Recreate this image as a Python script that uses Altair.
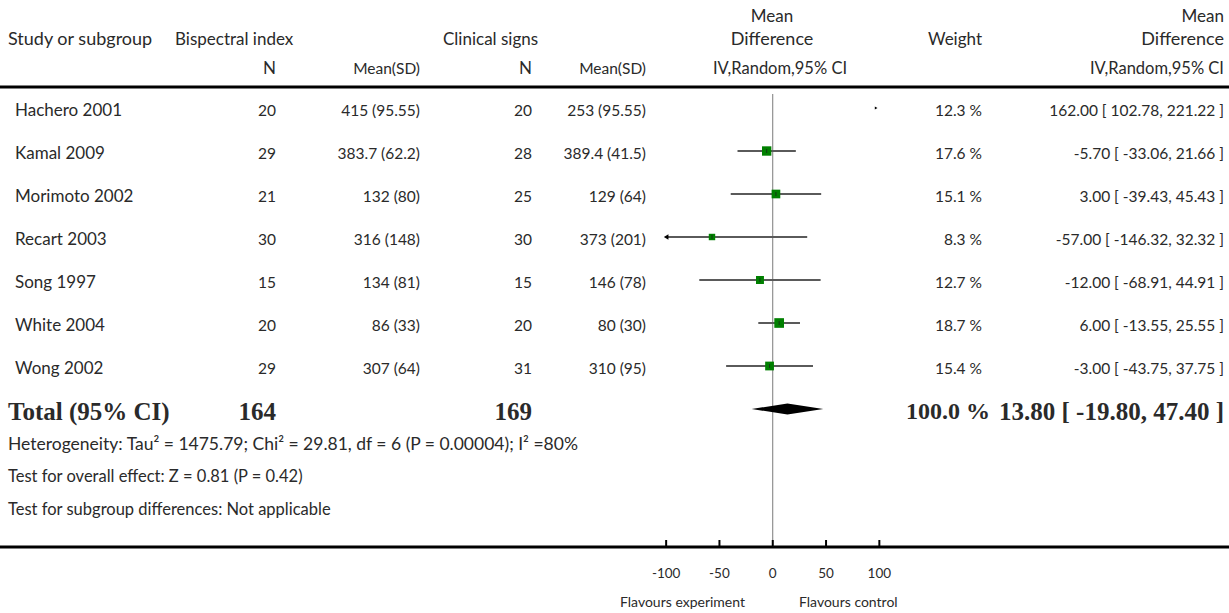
import altair as alt
import pandas as pd

# Study-level data
studies = ["Hachero 2001", "Kamal 2009", "Morimoto 2002", "Recart 2003",
           "Song 1997", "White 2004", "Wong 2002"]
n_bis = [20, 29, 21, 30, 15, 20, 29]
msd_bis = ["415 (95.55)", "383.7 (62.2)", "132 (80)", "316 (148)",
           "134 (81)", "86 (33)", "307 (64)"]
n_cli = [20, 28, 25, 30, 15, 20, 31]
msd_cli = ["253 (95.55)", "389.4 (41.5)", "129 (64)", "373 (201)",
           "146 (78)", "80 (30)", "310 (95)"]
weights = [12.3, 17.6, 15.1, 8.3, 12.7, 18.7, 15.4]
md = [162.00, -5.70, 3.00, -57.00, -12.00, 6.00, -3.00]
ci_lo = [102.78, -33.06, -39.43, -146.32, -68.91, -13.55, -43.75]
ci_hi = [221.22, 21.66, 45.43, 32.32, 44.91, 25.55, 37.75]

# Pooled estimate
total_n_bis = 164
total_n_cli = 169
total_weight = 100.0
total_md = 13.80
total_lo = -19.80
total_hi = 47.40

axis_ticks = [-100, -50, 0, 50, 100]
axis_lim = 100

W, H = 1229, 613
SANS = "Lato"
SERIF = "Liberation Serif"
INK = "#2a2a2a"
TXT = 17      # labels and headers
NUM = 15.5    # numeric cells
BOLD = 25     # pooled row

# x: mean difference scale (0 sits under the forest column)
x_scale = alt.Scale(domain=[-724.9, 428.0], range=[0, W], nice=False, zero=False)
# y: row index scale, one row = 43 px, first row at 108 px
y_scale = alt.Scale(domain=[-108 / 43, (H - 108) / 43], range=[0, H], nice=False, zero=False)

rows = pd.DataFrame({
    "row": list(range(len(studies))),
    "study": studies,
    "n_bis": [str(v) for v in n_bis],
    "msd_bis": msd_bis,
    "n_cli": [str(v) for v in n_cli],
    "msd_cli": msd_cli,
    "weight": weights,
    "wlab": [f"{w:.1f} %" for w in weights],
    "md": md,
    "lo": ci_lo,
    "hi": ci_hi,
    "cilab": [f"{m:.2f} [ {l:.2f}, {h:.2f} ]" for m, l, h in zip(md, ci_lo, ci_hi)],
})
rows["lo_c"] = rows["lo"].clip(-axis_lim, axis_lim)
rows["hi_c"] = rows["hi"].clip(-axis_lim, axis_lim)
rows["inside"] = (rows["md"] >= -axis_lim) & (rows["md"] <= axis_lim)

base = alt.Chart(rows)
X = lambda f: alt.X(f, type="quantitative", scale=x_scale, axis=None)
Y = lambda f: alt.Y(f, type="quantitative", scale=y_scale, axis=None)


def col_text(field, xpx, align, size=NUM, dy=3):
    return base.mark_text(align=align, baseline="middle", font=SANS, fontSize=size,
                          color=INK, dy=dy).encode(
        x=alt.value(xpx), y=Y("row"), text=alt.Text(field, type="nominal"))


def label(text, xpx, ypx, align="left", size=TXT, font=SANS, weight="normal"):
    return alt.Chart(alt.Data(values=[{}])).mark_text(
        align=align, baseline="middle", font=font, fontSize=size,
        fontWeight=weight, color=INK).encode(
        x=alt.value(xpx), y=alt.value(ypx), text=alt.value(text))


layers = []

# Header
layers += [
    label("Study or subgroup", 8, 40, size=18),
    label("Bispectral index", 175, 40),
    label("Clinical signs", 443, 40),
    label("Mean", 772, 17, "center"),
    label("Difference", 772, 40, "center", 18),
    label("Weight", 955, 40, "center"),
    label("Mean", 1224, 17, "right"),
    label("Difference", 1224, 40, "right", 18),
    label("N", 276, 69, "right"),
    label("Mean(SD)", 420, 69, "right", NUM),
    label("N", 532, 69, "right"),
    label("Mean(SD)", 646, 69, "right", NUM),
    label("IV,Random,95% CI", 780, 69, "center", 16.5),
    label("IV,Random,95% CI", 1224, 69, "right", 16.5),
]

# Horizontal rules framing the table
rule_src = alt.Chart(alt.Data(values=[{}]))
layers.append(rule_src.mark_rule(color="black", strokeWidth=3).encode(
    x=alt.value(0), x2=alt.value(W), y=alt.value(87)))
layers.append(rule_src.mark_rule(color="black", strokeWidth=3).encode(
    x=alt.value(0), x2=alt.value(W), y=alt.value(547)))

# Line of no effect
zero_df = pd.DataFrame({"v": [0]})
layers.append(alt.Chart(zero_df).mark_rule(color="#7a7a7a", strokeWidth=1).encode(
    x=X("v"), y=alt.value(94), y2=alt.value(547)))

# Study columns
layers += [
    col_text("study", 15, "left", TXT),
    col_text("n_bis", 276, "right"),
    col_text("msd_bis", 420, "right"),
    col_text("n_cli", 532, "right"),
    col_text("msd_cli", 646, "right"),
    col_text("wlab", 982, "right"),
    col_text("cilab", 1224, "right"),
]

# Confidence intervals (clipped at the plotted range)
ci_rows = rows[rows["lo_c"] < rows["hi_c"]]
layers.append(alt.Chart(ci_rows).mark_rule(color="#5a5a5a", strokeWidth=2).encode(
    x=X("lo_c"), x2=alt.X2("hi_c"), y=Y("row")))

# Arrows where the interval runs past the plotted range
left_arrows = rows[rows["lo"] < -axis_lim]
right_arrows = rows[rows["hi"] > axis_lim].copy()
right_arrows["tip"] = axis_lim - 3
layers.append(alt.Chart(left_arrows).mark_point(
    shape="triangle-left", filled=True, color="black", size=28, opacity=1).encode(
    x=X("lo_c"), y=Y("row")))
layers.append(alt.Chart(right_arrows).mark_point(
    shape="triangle-right", filled=True, color="black", size=10, opacity=1).encode(
    x=X("tip"), y=Y("row")))

# Weighted point estimates
inside = rows[rows["inside"]]
layers.append(alt.Chart(inside).mark_square(color="#008000", opacity=1).encode(
    x=X("md"), y=Y("row"),
    size=alt.Size("weight:Q", scale=alt.Scale(domain=[0, 20], range=[0, 100]), legend=None)))
layers.append(alt.Chart(inside).mark_tick(orient="vertical", color="#1a1a1a",
                                          size=4, thickness=1).encode(
    x=X("md"), y=Y("row")))

# Pooled diamond
total_row = len(studies)
half_h = 5.5 / 43
diamond = pd.DataFrame({
    "x": [total_lo, total_md, total_hi],
    "top": [total_row, total_row - half_h, total_row],
    "bot": [total_row, total_row + half_h, total_row],
})
layers.append(alt.Chart(diamond).mark_area(color="black", opacity=1).encode(
    x=X("x"), y=Y("top"), y2=alt.Y2("bot")))

# Total row
total_y = 108 + 43 * total_row + 3
layers += [
    label("Total (95% CI)", 8, total_y, "left", BOLD, SERIF, "bold"),
    label(str(total_n_bis), 276, total_y, "right", BOLD, SERIF, "bold"),
    label(str(total_n_cli), 532, total_y, "right", BOLD, SERIF, "bold"),
    label(f"{total_weight:.1f} %", 990, total_y, "right", 24, SERIF, "bold"),
    label(f"{total_md:.2f} [ {total_lo:.2f}, {total_hi:.2f} ]", 1224, total_y,
          "right", BOLD, SERIF, "bold"),
]

# Summary statistics
layers += [
    label("Heterogeneity: Tau\u00b2 = 1475.79; Chi\u00b2 = 29.81, df = 6 (P = 0.00004); I\u00b2 =80%",
          8, 445, size=17.5),
    label("Test for overall effect: Z = 0.81  (P = 0.42)", 8, 477, size=16.5),
    label("Test for subgroup differences: Not applicable", 8, 510, size=16.5),
]

# Bottom scale
tick_df = pd.DataFrame({"t": axis_ticks, "lab": [str(t) for t in axis_ticks]})
layers.append(alt.Chart(tick_df).mark_rule(color="black", strokeWidth=2).encode(
    x=X("t"), y=alt.value(540), y2=alt.value(547)))
layers.append(alt.Chart(tick_df).mark_text(font=SANS, fontSize=13.5, color=INK,
                                           baseline="middle").encode(
    x=X("t"), y=alt.value(574), text="lab:N"))
layers += [
    label("Flavours experiment", 745, 603, "right", 14),
    label("Flavours control", 799, 603, "left", 14),
]

chart = alt.layer(*layers).properties(
    width=W, height=H, padding=0, autosize=alt.AutoSizeParams(type="none"),
    background="white",
).configure_view(stroke=None)

chart.save("out.html", embed_options={"renderer": "svg", "actions": False})
